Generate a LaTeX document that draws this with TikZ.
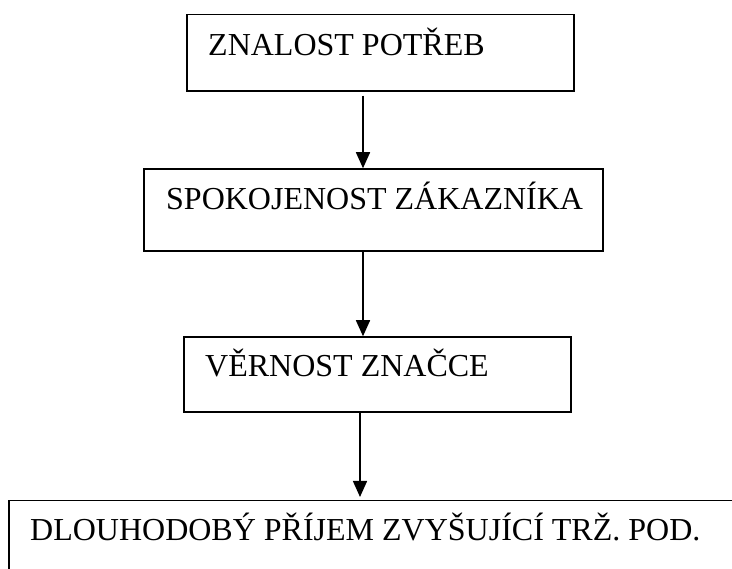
\documentclass[tikz,border=0pt]{standalone}
\usepackage{fontspec}
\setmainfont{Liberation Serif}
\usetikzlibrary{arrows.meta}
\begin{document}
\begin{tikzpicture}[x=1pt, y=-1pt,
    box/.style={draw, line width=1.5pt, inner sep=0pt},
    lbl/.style={anchor=base west, inner sep=0pt, font=\fontsize{32}{38}\selectfont},
    flow/.style={line width=1.5pt, -{Triangle[length=16pt,width=14pt]}}]
    \useasboundingbox (0,0) rectangle (732,569);
    \clip (0,0) rectangle (732,569);

    % Boxes of the chain
    \node[box, minimum width=387pt, minimum height=76.5pt] (potreby) at (380.5,52.75) {};
    \node[box, minimum width=459pt, minimum height=82pt] (spokojenost) at (373.5,210) {};
    \node[box, minimum width=387pt, minimum height=75pt] (vernost) at (377.5,374.5) {};
    % Last box runs off the page
    \node[box, anchor=north west, minimum width=800pt, minimum height=120pt] (prijem) at (8,500) {};

    % Texts
    \node[lbl] (tpotreby) at (208,56) {ZNALOST POTŘEB};
    \node[lbl] (tspokojenost) at (166,210) {SPOKOJENOST ZÁKAZNÍKA};
    \node[lbl] (tvernost) at (205,377) {VĚRNOST ZNAČCE};
    \node[lbl] (tprijem) at (30,541) {DLOUHODOBÝ PŘÍJEM ZVYŠUJÍCÍ TRŽ. POD.};

    % Arrows down the chain
    \coordinate (col) at (363,0);
    \coordinate (collast) at (360,0);
    \draw[flow] ([yshift=-4pt]potreby.south -| col) -- (spokojenost.north -| col);
    \draw[flow] (spokojenost.south -| col) -- (vernost.north -| col);
    \draw[flow, shorten >=3pt] (vernost.south -| collast) -- (prijem.north -| collast);
\end{tikzpicture}
\end{document}
